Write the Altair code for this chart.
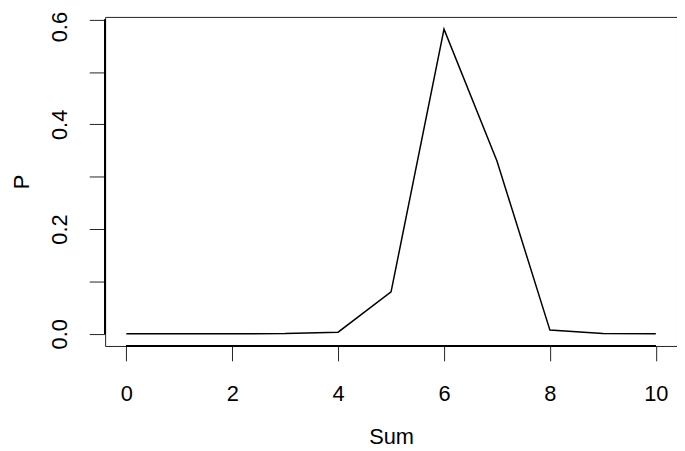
import altair as alt
import pandas as pd

sums = [0, 1, 2, 3, 4, 5, 6, 7, 8, 9, 10]
probs = [0.0, 0.0, 0.0, 0.0003, 0.003, 0.080, 0.582, 0.330, 0.007, 0.0005, 0.0]
x_ticks = [0, 2, 4, 6, 8, 10]
y_ticks = [0.0, 0.1, 0.2, 0.3, 0.4, 0.5, 0.6]

df = pd.DataFrame({"Sum": sums, "P": probs})

FONT = "Liberation Sans"
W, H = 577, 332

xscale = alt.Scale(domain=[-0.4, 10.4], nice=False, zero=False)
yscale = alt.Scale(domain=[-0.0233, 0.6053], nice=False, zero=False)

line = alt.Chart(df).mark_line(color="black", strokeWidth=1.5).encode(
    x=alt.X("Sum:Q", scale=xscale,
            axis=alt.Axis(values=x_ticks, format="d", tickSize=15, tickColor="#222",
                          tickWidth=1, domain=False, grid=False,
                          labelFontSize=22, labelFont=FONT, labelColor="black",
                          labelPadding=23, title="Sum", titleFont=FONT,
                          titleFontSize=22, titleFontWeight="normal", titleColor="black",
                          titlePadding=22)),
    y=alt.Y("P:Q", scale=yscale,
            axis=alt.Axis(values=y_ticks, tickSize=16, tickColor="#222", tickWidth=1,
                          domain=False, grid=False, labelOverlap=False,
                          labelExpr="(round(datum.value*10) % 2 == 0) ? format(datum.value, '.1f') : ''",
                          labelAngle=270, labelAlign="center", labelBaseline="bottom",
                          labelOffset={"condition": {"test": "datum.value > 0.55", "value": 7}, "value": 0},
                          labelFontSize=22, labelFont=FONT, labelColor="black",
                          labelPadding=18, title="P", titleFont=FONT, titleFontSize=22,
                          titleFontWeight="normal", titleColor="black", titlePadding=15)),
)

xaxis_line = alt.Chart(df).mark_rule(color="black", strokeWidth=1.5).encode(
    x=alt.datum(x_ticks[0], scale=xscale),
    x2=alt.datum(x_ticks[-1]),
    y=alt.value(H),
)
yaxis_line = alt.Chart(df).mark_rule(color="black", strokeWidth=1.5).encode(
    y=alt.datum(y_ticks[0], scale=yscale),
    y2=alt.datum(y_ticks[-1]),
    x=alt.value(0),
)

chart = alt.layer(line, xaxis_line, yaxis_line).properties(
    width=W, height=H,
    padding={"left": 98, "top": 7, "right": 0, "bottom": 106},
    autosize="none",
    background="white",
).configure_view(stroke="#222", strokeWidth=1)

chart.save("out.html", embed_options={"renderer": "svg", "actions": False})
